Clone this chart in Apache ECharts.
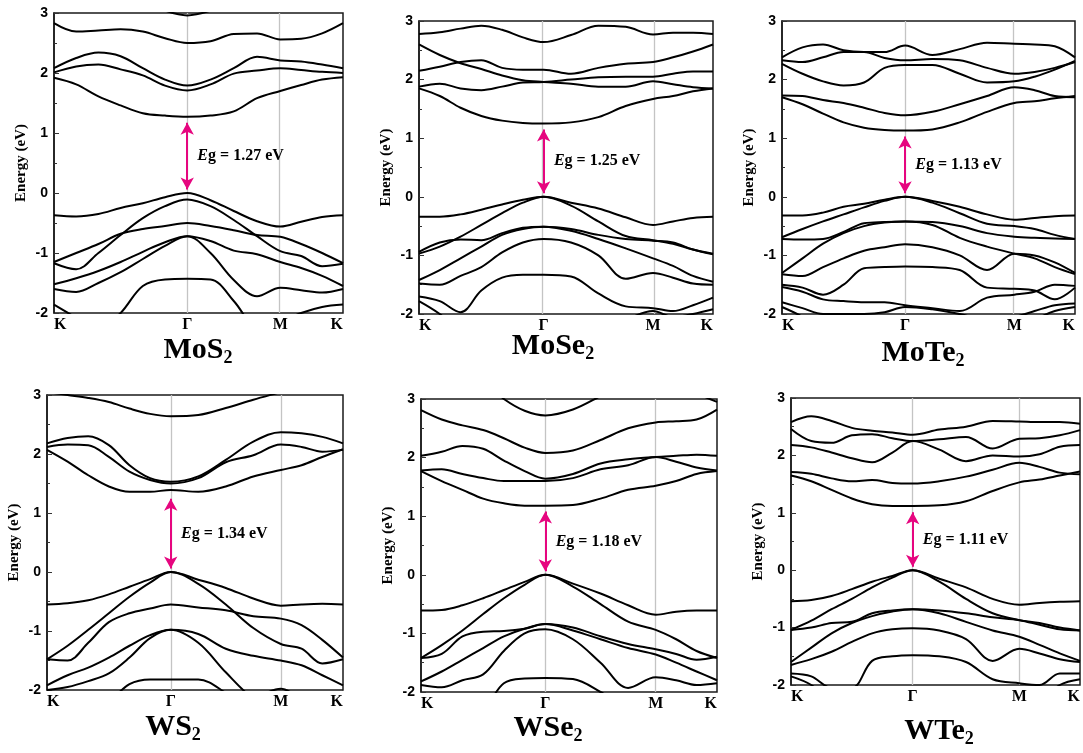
<!DOCTYPE html>
<html>
<head>
<meta charset="utf-8">
<script src="https://cdn.jsdelivr.net/npm/echarts@6/dist/echarts.min.js"></script>
<style>
  html, body { margin: 0; background: #fff; }
  #chart { width: 1083px; height: 753px; }
</style>
</head>
<body>
<div id="chart"></div>
<script>
// compounds and band gaps (eV)
const materials = ['MoS2', 'MoSe2', 'MoTe2', 'WS2', 'WSe2', 'WTe2'];
const gaps = [1.27, 1.25, 1.13, 1.34, 1.18, 1.11];
const kLabels = ['K', 'Γ', 'M', 'K'];
// K, Γ, M, K positions along the path for each panel
const kPaths = [
  [0, 0.461, 0.783, 1],
  [0, 0.424, 0.796, 1],
  [0, 0.420, 0.793, 1],
  [0, 0.418, 0.790, 1],
  [0, 0.420, 0.793, 1],
  [0, 0.421, 0.790, 1],
];
// bands are sampled at 6 steps K-Γ, 4 steps Γ-M, 3 steps M-K
const segSteps = [[0, 1/6, 2/6, 3/6, 4/6, 5/6, 1], [0.25, 0.5, 0.75, 1], [1/3, 2/3, 1]];

const mos2Bands = [
  [3.3, 3.3, 3.3, 3.3, 3.2, 3.04, 2.96, 3.04, 3.2, 3.3, 3.3, 3.3, 3.3, 3.3],
  [2.83, 2.69, 2.71, 2.73, 2.69, 2.58, 2.5, 2.53, 2.65, 2.66, 2.56, 2.57, 2.66, 2.83],
  [2.08, 2.25, 2.34, 2.28, 2.08, 1.89, 1.79, 1.89, 2.08, 2.27, 2.21, 2.19, 2.14, 2.08],
  [2.01, 2.11, 2.14, 2.06, 1.96, 1.79, 1.71, 1.81, 1.99, 2.04, 2.08, 2.05, 2.02, 2.0],
  [1.92, 1.81, 1.61, 1.46, 1.33, 1.29, 1.27, 1.29, 1.36, 1.58, 1.7, 1.8, 1.89, 1.93],
  [-0.37, -0.39, -0.35, -0.25, -0.17, -0.07, 0, -0.12, -0.3, -0.47, -0.56, -0.48, -0.4, -0.37],
  [-1.17, -1.27, -1.0, -0.7, -0.42, -0.22, -0.11, -0.22, -0.45, -0.72, -0.97, -1.05, -1.22, -1.18],
  [-1.15, -1.0, -0.85, -0.68, -0.6, -0.55, -0.5, -0.55, -0.62, -0.7, -0.73, -0.85, -1.0, -1.17],
  [-1.52, -1.42, -1.3, -1.15, -0.98, -0.82, -0.72, -0.8, -0.96, -1.02, -1.15, -1.25, -1.38, -1.55],
  [-1.6, -1.65, -1.5, -1.32, -1.1, -0.88, -0.72, -1.0, -1.45, -1.72, -1.58, -1.62, -1.66, -1.6],
  [-2.4, -2.4, -2.3, -2.0, -1.55, -1.44, -1.43, -1.44, -1.8, -2.3, -2.4, -2.4, -2.4, -2.4],
  [-1.86, -2.08, -2.3, -2.4, -2.4, -2.4, -2.4, -2.4, -2.4, -2.3, -2.15, -2.0, -1.9, -1.86],
];
const mose2Bands = [
  [2.78, 2.81, 2.87, 2.92, 2.85, 2.72, 2.64, 2.76, 2.92, 2.9, 2.77, 2.8, 2.8, 2.78],
  [2.6, 2.42, 2.28, 2.18, 2.07, 1.99, 1.96, 1.93, 1.88, 1.88, 1.97, 1.92, 1.87, 1.85],
  [2.15, 2.22, 2.3, 2.33, 2.2, 2.17, 2.17, 2.1, 2.2, 2.27, 2.3, 2.38, 2.48, 2.6],
  [1.88, 1.93, 1.85, 1.82, 1.88, 1.95, 1.96, 2.0, 2.04, 2.05, 2.05, 2.1, 2.14, 2.14],
  [1.85, 1.72, 1.52, 1.38, 1.3, 1.26, 1.25, 1.27, 1.36, 1.55, 1.67, 1.72, 1.8, 1.85],
  [-0.34, -0.34, -0.3, -0.22, -0.13, -0.05, 0, -0.1, -0.2, -0.35, -0.48, -0.42, -0.36, -0.34],
  [-0.97, -0.85, -0.68, -0.48, -0.28, -0.1, 0, -0.15, -0.42, -0.67, -0.74, -0.8, -0.9, -0.97],
  [-0.94, -0.78, -0.73, -0.74, -0.62, -0.53, -0.51, -0.55, -0.65, -0.72, -0.75, -0.78, -0.9, -0.98],
  [-1.42, -1.25, -1.05, -0.85, -0.65, -0.55, -0.51, -0.58, -0.72, -0.88, -1.05, -1.18, -1.35, -1.45],
  [-1.48, -1.5, -1.35, -1.2, -0.95, -0.78, -0.72, -0.78, -1.0, -1.4, -1.3, -1.38, -1.48, -1.5],
  [-1.7, -1.78, -1.97, -1.6, -1.38, -1.33, -1.33, -1.36, -1.65, -1.87, -1.9, -1.95, -1.85, -1.72],
  [-1.78, -2.0, -2.3, -2.4, -2.4, -2.4, -2.4, -2.4, -2.3, -2.1, -1.95, -2.05, -2.0, -1.92],
];
const mote2Bands = [
  [2.38, 2.55, 2.6, 2.5, 2.47, 2.47, 2.58, 2.42, 2.52, 2.63, 2.61, 2.6, 2.57, 2.38],
  [2.33, 2.3, 2.38, 2.47, 2.47, 2.37, 2.33, 2.35, 2.33, 2.2, 2.1, 2.13, 2.2, 2.3],
  [2.27, 2.1, 1.97, 1.9, 1.95, 2.2, 2.25, 2.25, 2.1, 1.95, 1.97, 2.05, 2.17, 2.32],
  [1.73, 1.72, 1.65, 1.6, 1.52, 1.43, 1.39, 1.45, 1.58, 1.72, 1.87, 1.82, 1.72, 1.7],
  [1.7, 1.58, 1.42, 1.27, 1.18, 1.14, 1.13, 1.15, 1.27, 1.45, 1.6, 1.63, 1.68, 1.72],
  [-0.32, -0.32, -0.27, -0.17, -0.12, -0.05, 0, -0.07, -0.17, -0.3, -0.39, -0.36, -0.33, -0.32],
  [-0.69, -0.55, -0.42, -0.3, -0.18, -0.07, 0, -0.1, -0.28, -0.46, -0.5, -0.55, -0.65, -0.72],
  [-0.72, -0.73, -0.72, -0.6, -0.45, -0.43, -0.42, -0.43, -0.5, -0.62, -0.68, -0.7, -0.71, -0.72],
  [-1.3, -1.05, -0.8, -0.62, -0.5, -0.44, -0.42, -0.48, -0.7, -0.85, -0.97, -1.05, -1.2, -1.32],
  [-1.32, -1.35, -1.2, -1.05, -0.92, -0.86, -0.81, -0.86, -1.0, -1.25, -0.97, -1.0, -1.12, -1.3],
  [-1.5, -1.55, -1.67, -1.5, -1.22, -1.2, -1.19, -1.2, -1.25, -1.55, -1.57, -1.6, -1.75, -1.55],
  [-1.54, -1.62, -1.75, -1.78, -1.8, -1.8, -1.85, -1.9, -1.95, -1.72, -1.67, -1.62, -1.5, -1.52],
  [-1.8, -1.9, -2.0, -2.0, -2.0, -1.97, -1.88, -1.92, -2.0, -2.1, -2.05, -1.95, -1.85, -1.82],
  [-1.88, -2.05, -2.3, -2.3, -2.3, -2.3, -2.3, -2.3, -2.3, -2.3, -2.3, -2.1, -1.95, -1.88],
];
const ws2Bands = [
  [3.05, 3.0, 2.95, 2.88, 2.77, 2.68, 2.64, 2.66, 2.78, 2.92, 3.05, 3.15, 3.2, 3.2],
  [2.18, 2.27, 2.3, 2.15, 1.81, 1.59, 1.53, 1.62, 1.9, 2.21, 2.37, 2.35, 2.29, 2.18],
  [2.12, 2.16, 2.15, 1.95, 1.7, 1.56, 1.5, 1.59, 1.86, 1.98, 2.16, 2.12, 2.04, 2.07],
  [2.07, 1.87, 1.64, 1.45, 1.36, 1.36, 1.39, 1.36, 1.45, 1.62, 1.73, 1.81, 1.95, 2.08],
  [-0.55, -0.53, -0.48, -0.38, -0.25, -0.12, 0, -0.13, -0.27, -0.45, -0.57, -0.55, -0.54, -0.55],
  [-1.48, -1.25, -0.98, -0.7, -0.42, -0.18, 0, -0.2, -0.55, -0.95, -1.22, -1.3, -1.55, -1.48],
  [-1.48, -1.5, -1.2, -0.85, -0.7, -0.62, -0.55, -0.6, -0.65, -0.75, -0.79, -0.9, -1.15, -1.45],
  [-1.92, -1.75, -1.62, -1.45, -1.25, -1.07, -0.98, -1.05, -1.3, -1.42, -1.5, -1.58, -1.75, -1.92],
  [-2.0, -1.95, -1.85, -1.72, -1.45, -1.12, -0.98, -1.2, -1.7, -2.15, -2.4, -2.4, -2.3, -2.02],
  [-2.4, -2.4, -2.4, -2.2, -1.9, -1.82, -1.82, -1.82, -2.05, -2.4, -2.4, -2.4, -2.4, -2.4],
  [-2.3, -2.3, -2.3, -2.3, -2.3, -2.3, -2.3, -2.3, -2.3, -2.15, -1.98, -2.15, -2.3, -2.3],
];
const wse2Bands = [
  [3.3, 3.3, 3.3, 3.3, 3.0, 2.8, 2.72, 2.82, 3.05, 3.3, 3.3, 3.3, 3.1, 2.95],
  [2.81, 2.65, 2.55, 2.47, 2.33, 2.17, 2.08, 2.12, 2.3, 2.5, 2.6, 2.62, 2.65, 2.82],
  [2.03, 2.1, 2.2, 2.15, 1.95, 1.77, 1.64, 1.72, 1.9, 1.97, 2.01, 2.03, 2.05, 2.03],
  [1.78, 1.8, 1.72, 1.65, 1.6, 1.6, 1.6, 1.65, 1.8, 1.87, 2.01, 1.93, 1.83, 1.78],
  [1.77, 1.6, 1.45, 1.3, 1.22, 1.18, 1.18, 1.19, 1.3, 1.45, 1.52, 1.6, 1.72, 1.77],
  [-0.61, -0.6, -0.52, -0.4, -0.26, -0.12, 0, -0.15, -0.32, -0.52, -0.68, -0.63, -0.61, -0.61],
  [-1.42, -1.2, -0.95, -0.67, -0.4, -0.17, 0, -0.2, -0.5, -0.8, -0.94, -1.1, -1.3, -1.42],
  [-1.42, -1.35, -1.05, -0.97, -0.96, -0.92, -0.84, -0.9, -1.05, -1.18, -1.27, -1.35, -1.45, -1.4],
  [-1.82, -1.65, -1.45, -1.25, -1.05, -0.92, -0.84, -0.95, -1.1, -1.25, -1.36, -1.5, -1.65, -1.8],
  [-1.88, -1.92, -1.8, -1.7, -1.3, -1.0, -0.93, -1.1, -1.5, -1.93, -1.75, -1.8, -1.88, -1.85],
  [-2.4, -2.4, -2.4, -2.3, -1.85, -1.77, -1.76, -1.78, -2.0, -2.3, -2.4, -2.4, -2.4, -2.4],
];
const wte2Bands = [
  [2.58, 2.68, 2.6, 2.48, 2.43, 2.4, 2.36, 2.45, 2.5, 2.6, 2.59, 2.58, 2.58, 2.55],
  [2.46, 2.25, 2.22, 2.35, 2.37, 2.3, 2.25, 2.28, 2.32, 2.12, 2.29, 2.3, 2.35, 2.44],
  [2.18, 2.14, 2.05, 1.95, 1.88, 2.05, 2.25, 2.1, 1.9, 2.0, 1.98, 2.02, 2.15, 2.18],
  [1.71, 1.68, 1.6, 1.55, 1.57, 1.52, 1.51, 1.55, 1.63, 1.75, 1.87, 1.8, 1.7, 1.67],
  [1.65, 1.55, 1.4, 1.25, 1.15, 1.12, 1.12, 1.13, 1.2, 1.38, 1.53, 1.58, 1.65, 1.72],
  [-0.54, -0.52, -0.45, -0.33, -0.2, -0.1, 0, -0.15, -0.3, -0.5, -0.6, -0.57, -0.55, -0.54],
  [-1.04, -0.88, -0.68, -0.5, -0.3, -0.13, 0, -0.2, -0.5, -0.75, -0.87, -0.92, -1.0, -1.05],
  [-1.04, -1.0, -0.92, -0.9, -0.75, -0.7, -0.68, -0.7, -0.75, -0.82, -0.87, -0.95, -1.03, -1.05],
  [-1.6, -1.35, -1.1, -0.92, -0.8, -0.72, -0.68, -0.75, -0.9, -1.05, -1.16, -1.3, -1.45, -1.58],
  [-1.65, -1.55, -1.42, -1.25, -1.1, -1.03, -1.01, -1.05, -1.2, -1.58, -1.37, -1.45, -1.55, -1.6],
  [-1.8, -1.85, -2.05, -2.05, -1.58, -1.5, -1.48, -1.5, -1.6, -1.9, -1.97, -2.0, -1.8, -1.8],
  [-1.85, -2.0, -2.3, -2.4, -2.4, -2.4, -2.4, -2.4, -2.4, -2.4, -2.4, -2.3, -2.0, -1.9],
];
const allBands = [mos2Bands, mose2Bands, mote2Bands, ws2Bands, wse2Bands, wte2Bands];

// layout
const boxes = [
  { left: 54, top: 13, width: 289, height: 300 },
  { left: 419, top: 21, width: 294, height: 293 },
  { left: 782, top: 21, width: 293, height: 293 },
  { left: 47, top: 395, width: 296, height: 295 },
  { left: 421, top: 399, width: 296, height: 293 },
  { left: 791, top: 398, width: 289, height: 287 },
];
const titlePos = [[198, 350], [553, 346], [923, 353], [173, 727], [548, 728], [939, 731]];

const serif = '"Liberation Serif", "Times New Roman", serif';
const sans = '"Liberation Sans", Arial, sans-serif';
const pink = '#e6067f';

function kGrid(p) {
  const out = [];
  for (let s = 0; s < 3; s++) {
    for (const t of segSteps[s]) out.push(p[s] + (p[s + 1] - p[s]) * t);
  }
  return out;
}

const grids = [], xAxes = [], yAxes = [], series = [], graphics = [];

materials.forEach((name, i) => {
  const kp = kPaths[i];
  const ks = kGrid(kp);
  grids.push({ ...boxes[i], show: true, borderColor: '#1a1a1a', borderWidth: 1.5, containLabel: false });
  xAxes.push({
    gridIndex: i, type: 'value', min: 0, max: 1,
    axisLine: { show: false }, axisTick: { show: false }, splitLine: { show: false },
    axisLabel: {
      customValues: kp,
      formatter: (v) => kLabels[kp.indexOf(v)] || '',
      alignMinLabel: 'left', alignMaxLabel: 'right',
      margin: 4, color: '#000', fontFamily: serif, fontSize: 16, fontWeight: 'bold',
    },
  });
  yAxes.push({
    gridIndex: i, type: 'value', min: -2, max: 3, interval: 1,
    axisLine: { show: true, lineStyle: { color: '#1a1a1a', width: 1.5 } },
    axisTick: { inside: true, length: 5, lineStyle: { color: '#333' } },
    minorTick: { show: true, splitNumber: 2, length: 3, lineStyle: { color: '#333' } },
    splitLine: { show: false },
    axisLabel: { margin: 6, color: '#000', fontFamily: sans, fontSize: 14, fontWeight: 'bold' },
    name: 'Energy (eV)', nameLocation: 'middle', nameGap: 25,
    nameTextStyle: { fontFamily: serif, fontSize: 15, fontWeight: 'bold', color: '#000' },
  });

  // high-symmetry lines at Γ and M
  series.push({
    type: 'line', xAxisIndex: i, yAxisIndex: i, data: [], silent: true,
    markLine: {
      z: 1, silent: true, symbol: 'none', animation: false,
      label: { show: false },
      lineStyle: { color: '#c4c4c4', width: 1.3, type: 'solid' },
      data: [{ xAxis: kp[1] }, { xAxis: kp[2] }],
    },
  });
  // gap arrow
  series.push({
    type: 'line', xAxisIndex: i, yAxisIndex: i, data: [], silent: true,
    markLine: {
      z: 6, silent: true, symbol: ['arrow', 'arrow'], symbolSize: [10, 12], animation: false,
      label: { show: false },
      lineStyle: { color: pink, width: 2, type: 'solid' },
      data: [[{ coord: [kp[1], 0.06] }, { coord: [kp[1], gaps[i] - 0.1] }]],
    },
  });
  // gap label
  series.push({
    type: 'scatter', xAxisIndex: i, yAxisIndex: i, silent: true, symbolSize: 0,
    itemStyle: { color: '#000', opacity: 1 },
    data: [[kp[1] + 0.035, gaps[i] / 2 - 0.02]],
    label: {
      show: true, position: 'right', distance: 0, color: '#000',
      formatter: '{i|E}{b|g = ' + gaps[i].toFixed(2) + ' eV}',
      rich: {
        i: { fontFamily: serif, fontSize: 16, fontWeight: 'bold', fontStyle: 'italic', color: '#000' },
        b: { fontFamily: serif, fontSize: 16, fontWeight: 'bold', color: '#000' },
      },
    },
  });

  allBands[i].forEach((band) => {
    series.push({
      type: 'line', xAxisIndex: i, yAxisIndex: i, z: 3,
      data: ks.map((k, j) => [k, band[j]]),
      smooth: 0.35, showSymbol: false, silent: true, clip: true,
      lineStyle: { color: '#000', width: 2 },
    });
  });

  const base = name.slice(0, -1);
  graphics.push({
    type: 'text', silent: true,
    style: {
      x: titlePos[i][0], y: titlePos[i][1], align: 'center', verticalAlign: 'middle',
      text: '{m|' + base + '}{s|2}',
      rich: {
        m: { fontFamily: serif, fontSize: 30, fontWeight: 'bold', lineHeight: 34, fill: '#000', color: '#000' },
        s: { fontFamily: serif, fontSize: 18, fontWeight: 'bold', lineHeight: 12, verticalAlign: 'bottom', fill: '#000', color: '#000' },
      },
    },
  });
});

const chart = echarts.init(document.getElementById('chart'));
chart.setOption({
  animation: false,
  backgroundColor: '#fff',
  grid: grids,
  xAxis: xAxes,
  yAxis: yAxes,
  series: series,
  graphic: graphics,
});
</script>
</body>
</html>
